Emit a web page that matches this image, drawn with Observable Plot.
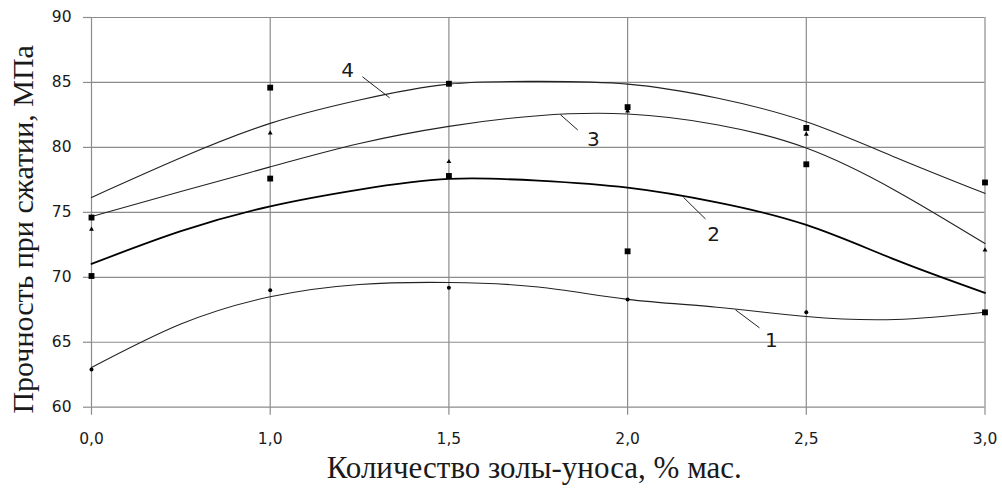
<!DOCTYPE html>
<html>
<head>
<meta charset="utf-8">
<script src="https://cdn.jsdelivr.net/npm/d3@7"></script>
<script src="https://cdn.jsdelivr.net/npm/@observablehq/plot@0.6"></script>
<style>
  html, body { margin: 0; padding: 0; background: #fff; }
  #chart svg { display: block; }
</style>
</head>
<body>
<div id="chart"></div>
<script>
// Category positions and tick labels (x axis is categorical, evenly spaced)
const xIndex = [0, 1, 2, 3, 4, 5];
const xLabels = ["0,0", "1,0", "1,5", "2,0", "2,5", "3,0"];
const yTicks = [60, 65, 70, 75, 80, 85, 90];

// Measured points
const s1 = [62.9, 69.0, 69.2, 68.3, 67.3, 67.3];   // series 1 (dots)
const s2 = [70.1, 77.6, 77.8, 72.0, 78.7, 67.3];   // series 2 (squares)
const s3 = [73.7, 81.1, 78.9, 82.8, 81.0, 72.1];   // series 3 (triangles)
const s4 = [74.6, 84.6, 84.9, 83.1, 81.5, 77.3];   // series 4 (squares)

// Trend curves
const fitX = [0, 0.5, 1, 1.5, 2, 2.5, 3, 3.5, 4, 4.5, 5];
const fit1 = [63.05, 66.4, 68.5, 69.45, 69.6, 69.25, 68.3, 67.7, 66.98, 66.75, 67.31];
const fit2 = [71.03, 73.55, 75.46, 76.75, 77.57, 77.44, 76.9, 75.77, 74.03, 71.34, 68.8];
const fit3 = [74.67, 76.6, 78.5, 80.3, 81.62, 82.44, 82.57, 81.75, 79.95, 76.67, 72.6];
const fit4 = [76.15, 79.2, 81.85, 83.65, 84.87, 85.08, 84.87, 83.8, 81.98, 79.23, 76.46];

// Curve labels and leader lines
const labNames = ["1", "2", "3", "4"];
const labX = [3.805, 3.481, 2.809, 1.433];
const labY = [65.13, 73.25, 80.63, 85.94];
const leadX1 = [3.604, 3.313, 2.624, 1.516];
const leadY1 = [67.49, 76.15, 82.52, 85.44];
const leadX2 = [3.738, 3.436, 2.721, 1.668];
const leadY2 = [66.11, 74.49, 81.34, 83.82];

const xTitle = "Количество золы-уноса, % мас.";
const yTitle = "Прочность при сжатии, МПа";

const pts = (vals) => xIndex.map((i, k) => ({i, v: vals[k]}));
const fit = (vals) => fitX.map((i, k) => ({i, v: vals[k]}));
const labels = labNames.map((t, k) => ({t, x: labX[k], y: labY[k]}));
const leaders = labNames.map((t, k) => ({x1: leadX1[k], y1: leadY1[k], x2: leadX2[k], y2: leadY2[k]}));

const grid = "#8c8c8c";
const ink = "#1a1a1a";

const chart = Plot.plot({
  width: 1002,
  height: 495,
  marginLeft: 91,
  marginRight: 17.5,
  marginTop: 17,
  marginBottom: 88.3,
  style: {background: "#fff", fontFamily: "DejaVu Sans"},
  x: {domain: [0, 5], ticks: xIndex, tickFormat: (d) => xLabels[d]},
  y: {domain: [60, 90], ticks: yTicks},
  marks: [
    Plot.gridX(xIndex, {stroke: grid, strokeOpacity: 1, strokeWidth: 1.2}),
    Plot.gridY(yTicks, {stroke: grid, strokeOpacity: 1, strokeWidth: 1.2}),
    Plot.axisX(xIndex, {tickSize: 8, tickPadding: 18, stroke: grid, strokeWidth: 1.2, fill: ink, fontSize: 15.5, label: null, tickFormat: (d) => xLabels[d]}),
    Plot.axisY(yTicks, {tickSize: 8, tickPadding: 12, stroke: grid, strokeWidth: 1.2, fill: ink, fontSize: 15.5, label: null}),
    Plot.line(fit(fit1), {x: "i", y: "v", curve: "natural", stroke: "#222", strokeWidth: 1.1}),
    Plot.line(fit(fit3), {x: "i", y: "v", curve: "natural", stroke: "#222", strokeWidth: 1.1}),
    Plot.line(fit(fit4), {x: "i", y: "v", curve: "natural", stroke: "#222", strokeWidth: 1.1}),
    Plot.line(fit(fit2), {x: "i", y: "v", curve: "natural", stroke: "#000", strokeWidth: 1.8}),
    Plot.dot(pts(s1), {x: "i", y: "v", r: 2, fill: "#000", stroke: "none"}),
    Plot.dot(pts(s3), {x: "i", y: "v", r: 1.8, symbol: "triangle", fill: "#000", stroke: "none"}),
    Plot.dot(pts(s2), {x: "i", y: "v", r: 3.3, symbol: "square", fill: "#000", stroke: "none"}),
    Plot.dot(pts(s4), {x: "i", y: "v", r: 3.3, symbol: "square", fill: "#000", stroke: "none"}),
    Plot.link(leaders, {x1: "x1", y1: "y1", x2: "x2", y2: "y2", stroke: "#222", strokeWidth: 1}),
    Plot.text(labels, {x: "x", y: "y", text: "t", fontSize: 20, fill: ink, fontFamily: "DejaVu Sans"}),
    Plot.text([xTitle], {frameAnchor: "bottom", textAnchor: "middle", text: (d) => d, dy: 71, dx: -4, fontSize: 31, fill: ink, fontFamily: "Liberation Serif"}),
    Plot.text([yTitle], {frameAnchor: "left", textAnchor: "middle", text: (d) => d, rotate: -90, dx: -68, dy: 17, fontSize: 30, fill: ink, fontFamily: "Liberation Serif"})
  ]
});
document.getElementById("chart").appendChild(chart);
</script>
</body>
</html>
